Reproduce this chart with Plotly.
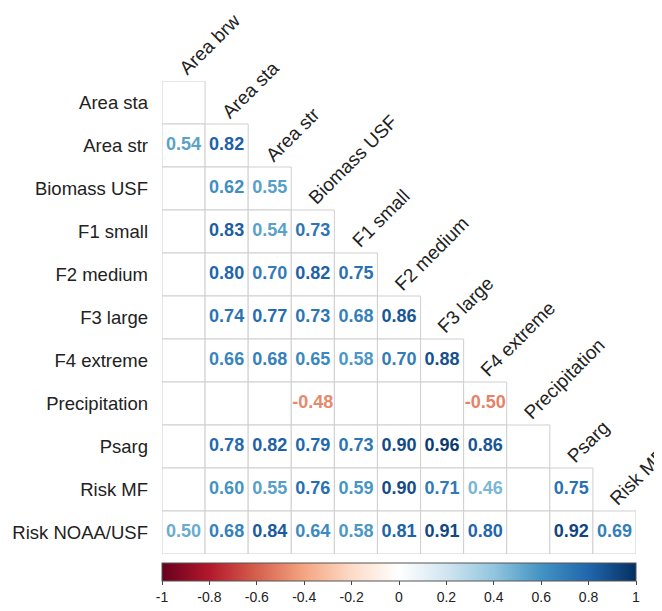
import plotly.graph_objects as go

row_labels = ["Area sta", "Area str", "Biomass USF", "F1 small", "F2 medium", "F3 large",
              "F4 extreme", "Precipitation", "Psarg", "Risk MF", "Risk NOAA/USF"]
col_labels = ["Area brw", "Area sta", "Area str", "Biomass USF", "F1 small", "F2 medium",
              "F3 large", "F4 extreme", "Precipitation", "Psarg", "Risk MF"]

N = None
corr_values = [
    [N],
    [0.54, 0.82],
    [N, 0.62, 0.55],
    [N, 0.83, 0.54, 0.73],
    [N, 0.80, 0.70, 0.82, 0.75],
    [N, 0.74, 0.77, 0.73, 0.68, 0.86],
    [N, 0.66, 0.68, 0.65, 0.58, 0.70, 0.88],
    [N, N, N, -0.48, N, N, N, -0.50],
    [N, 0.78, 0.82, 0.79, 0.73, 0.90, 0.96, 0.86, N],
    [N, 0.60, 0.55, 0.76, 0.59, 0.90, 0.71, 0.46, N, 0.75],
    [0.50, 0.68, 0.84, 0.64, 0.58, 0.81, 0.91, 0.80, N, 0.92, 0.69],
]

colorbar_ticks = [-1, -0.8, -0.6, -0.4, -0.2, 0, 0.2, 0.4, 0.6, 0.8, 1]
colorbar_ticktext = ["-1", "-0.8", "-0.6", "-0.4", "-0.2", "0", "0.2", "0.4", "0.6", "0.8", "1"]

rdbu = ["#67001F", "#B2182B", "#D6604D", "#F4A582", "#FDDBC7", "#FFFFFF",
        "#D1E5F0", "#92C5DE", "#4393C3", "#2166AC", "#053061"]
colorscale = [[i / (len(rdbu) - 1), c] for i, c in enumerate(rdbu)]


def hex2rgb(h):
    h = h.lstrip("#")
    return tuple(int(h[i:i + 2], 16) for i in (0, 2, 4))


def value_color(v):
    t = (v + 1) / 2 * (len(rdbu) - 1)
    i = min(int(t), len(rdbu) - 2)
    f = t - i
    a, b = hex2rgb(rdbu[i]), hex2rgb(rdbu[i + 1])
    r = [round(a[k] + (b[k] - a[k]) * f) for k in range(3)]
    return "rgb(%d,%d,%d)" % tuple(r)


xs, ys, txt, cols, vals = [], [], [], [], []
shapes = []
for i, row in enumerate(corr_values):
    for j, v in enumerate(row):
        shapes.append(dict(type="rect", xref="x", yref="y",
                           x0=j - 0.5, x1=j + 0.5, y0=i - 0.5, y1=i + 0.5,
                           line=dict(color="#cfcfcf", width=1), fillcolor="white", layer="below"))
        if v is not None:
            xs.append(j)
            ys.append(i)
            txt.append("%.2f" % v)
            cols.append(value_color(v))
            vals.append(v)

FONT = "Liberation Sans, Arial, sans-serif"

fig = go.Figure()
fig.add_trace(go.Scatter(
    x=xs, y=ys, text=txt, mode="markers+text",
    textposition="middle center",
    textfont=dict(family=FONT, size=18, color=cols, weight="bold"),
    marker=dict(size=1, opacity=0, color=vals, colorscale=colorscale, cmin=-1, cmax=1,
                showscale=True,
                colorbar=dict(orientation="h", thickness=18, len=474, lenmode="pixels",
                              x=0.5, xanchor="center", y=-9 / 473, yanchor="top",
                              xpad=0, ypad=0, outlinecolor="#555555", outlinewidth=1,
                              tickmode="array", tickvals=colorbar_ticks, ticktext=colorbar_ticktext,
                              ticks="outside", ticklen=4, tickcolor="#444444",
                              tickfont=dict(family=FONT, size=14, color="#222222"))),
    hoverinfo="skip", showlegend=False,
))

annotations = []
for j, name in enumerate(col_labels):
    annotations.append(dict(x=j, y=j - 0.5, xref="x", yref="y", text=name, showarrow=False,
                            textangle=-45, xanchor="left", yanchor="bottom",
                            xshift=-11, yshift=-1,
                            font=dict(family=FONT, size=19, color="#222222")))

fig.update_layout(
    width=654, height=603,
    margin=dict(l=154, r=26, t=73, b=57, autoexpand=False),
    paper_bgcolor="white", plot_bgcolor="white",
    shapes=shapes, annotations=annotations,
    xaxis=dict(range=[-0.5, 10.5], showgrid=False, zeroline=False, showticklabels=False,
               ticks="", fixedrange=True, automargin=False),
    yaxis=dict(range=[10.5, -0.5], showgrid=False, zeroline=False, tickmode="array",
               tickvals=list(range(len(row_labels))), ticktext=row_labels, ticks="",
               ticklabelstandoff=13, automargin=False,
               tickfont=dict(family=FONT, size=18.5, color="#222222")),
)

fig.write_html("out.html")
